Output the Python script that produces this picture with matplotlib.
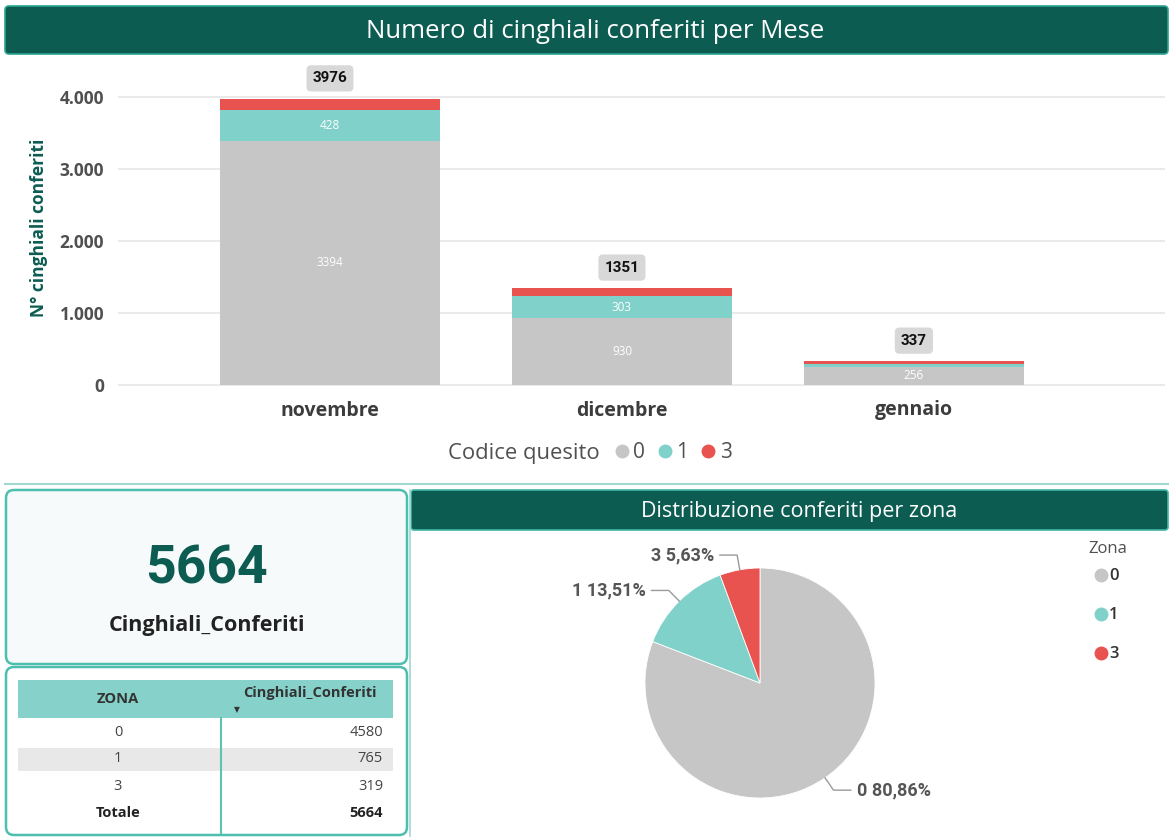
import matplotlib
matplotlib.use("Agg")
import matplotlib.pyplot as plt
from matplotlib.patches import FancyBboxPatch, Rectangle
from matplotlib.lines import Line2D
import numpy as np

# ---------------- data ----------------
months = ["novembre", "dicembre", "gennaio"]
codes = ["0", "1", "3"]
code0 = [3394, 930, 256]
code1 = [428, 303, 34]
code3 = [154, 118, 47]
yticks = [0, 1000, 2000, 3000, 4000]
ytick_labels = ["0", "1.000", "2.000", "3.000", "4.000"]

zones = ["0", "1", "3"]
zone_counts = [4580, 765, 319]
zone_pct_labels = ["80,86%", "13,51%", "5,63%"]
total_label = "5664"

# ---------------- style ----------------
W, H = 1173, 839
TEAL = "#0d5c52"
GRAY = "#c6c6c6"
CYAN = "#7fd1c9"
RED = "#e9534f"
TXT = "#505050"
FONT = ["Open Sans", "DejaVu Sans"]
NUMF = ["Roboto", "DejaVu Sans"]
plt.rcParams["font.family"] = FONT

fig = plt.figure(figsize=(W / 100, H / 100), dpi=100)
fig.patch.set_facecolor("white")


def box(x0, y0, x1, y1):
    """pixel box (top-left origin) -> figure fraction rect"""
    return [x0 / W, 1 - y1 / H, (x1 - x0) / W, (y1 - y0) / H]


def fx(x):
    return x / W


def fy(y):
    return 1 - y / H


# background overlay axes for panels
bg = fig.add_axes([0, 0, 1, 1], zorder=0)
bg.set_xlim(0, W)
bg.set_ylim(H, 0)
bg.axis("off")

# top header
bg.add_patch(FancyBboxPatch((5, 6), 1163, 48, boxstyle="round,pad=0,rounding_size=4",
                            fc=TEAL, ec="#2aa590", lw=1.2))
bg.text(595, 31, "Numero di cinghiali conferiti per Mese", color="white", fontsize=18.5,
        ha="center", va="center")

# bottom separator lines
bg.plot([5, 1168], [484, 484], color="#9fd8cf", lw=1.5)

# KPI card
bg.add_patch(FancyBboxPatch((6, 490), 401, 174, boxstyle="round,pad=0,rounding_size=8",
                            fc="#f6fafa", ec="#4dbfae", lw=1.8))
bg.text(207, 569, total_label, color=TEAL, fontsize=38.5, fontweight="bold",
        ha="center", va="center", family=NUMF)
bg.text(207, 625, "Cinghiali_Conferiti", color="#222222", fontsize=15.5, fontweight="bold",
        ha="center", va="center")

# table card
bg.add_patch(FancyBboxPatch((6, 667), 401, 168, boxstyle="round,pad=0,rounding_size=8",
                            fc="white", ec="#4dbfae", lw=1.8))
bg.add_patch(Rectangle((18, 680), 375, 38, fc="#86d2ca", ec="none"))
bg.text(118, 699, "ZONA", fontsize=10.5, fontweight="bold", color="#333333", ha="center", va="center")
bg.text(310, 693, "Cinghiali_Conferiti", fontsize=10.5, fontweight="bold", color="#333333",
        ha="center", va="center")
bg.text(237, 710, "\u25BC", fontsize=5.5, color="#333333", ha="center", va="center",
        family=["DejaVu Sans"])
bg.add_patch(Rectangle((18, 748), 375, 23, fc="#e8e8e8", ec="none"))
bg.plot([221, 221], [718, 833], color="#5cc3b5", lw=1.5)
row_y = [733, 759, 786]
for yy, z, c in zip(row_y, zones, zone_counts):
    bg.text(118, yy, z, fontsize=10.5, color="#444444", ha="center", va="center")
    bg.text(383, yy, str(c), fontsize=10.5, color="#444444", ha="right", va="center")
bg.text(118, 813, "Totale", fontsize=10.5, fontweight="bold", color="#222222", ha="center", va="center")
bg.text(383, 813, str(sum(zone_counts)), fontsize=10.5, fontweight="bold", color="#222222",
        ha="right", va="center")

# pie header
bg.add_patch(FancyBboxPatch((411, 490), 757, 40, boxstyle="round,pad=0,rounding_size=3",
                            fc=TEAL, ec="#3fb5a5", lw=1.2))
bg.text(799, 511, "Distribuzione conferiti per zona", color="white", fontsize=15.5,
        ha="center", va="center")
bg.plot([410, 410], [490, 836], color="#9fd8cf", lw=1.2)

# ---------------- bar chart ----------------
ax = fig.add_axes(box(118, 68, 1165, 388), zorder=2)
ax.set_facecolor("none")
x = np.arange(len(months))
bw = 0.753
b0 = np.array(code0)
b1 = np.array(code1)
b3 = np.array(code3)
ax.bar(x, b0, bw, color=GRAY, zorder=3)
ax.bar(x, b1, bw, bottom=b0, color=CYAN, zorder=3)
ax.bar(x, b3, bw, bottom=b0 + b1, color=RED, zorder=3)
ax.set_xlim(-0.726, 2.86)
ax.set_ylim(-40, 4400)
ax.set_yticks(yticks)
ax.set_yticklabels(ytick_labels, fontsize=12.5, color=TXT, fontweight="bold")
ax.set_xticks(x)
ax.set_xticklabels(months, fontsize=14, color="#3c3c3c", fontweight="bold")
ax.tick_params(axis="both", length=0)
ax.tick_params(axis="y", pad=10)
ax.tick_params(axis="x", pad=9)
for s in ax.spines.values():
    s.set_visible(False)
ax.grid(axis="y", color="#e6e6e6", lw=1.2, zorder=0)
ax.set_axisbelow(True)
ax.set_ylabel("N° cinghiali conferiti", fontsize=12.5, fontweight="bold", color=TEAL, labelpad=8)

for xi, v0, v1, v3 in zip(x, b0, b1, b3):
    if v0 > 200:
        ax.text(xi, v0 / 2, str(v0), color="white", fontsize=8.5, ha="center", va="center", zorder=4)
    if v1 > 200:
        ax.text(xi, v0 + v1 / 2, str(v1), color="white", fontsize=8.5, ha="center", va="center", zorder=4)
    tot = v0 + v1 + v3
    ax.text(xi, tot + 280, str(tot), color="#111111", fontsize=11, fontweight="bold",
            ha="center", va="center", zorder=4, family=NUMF,
            bbox=dict(boxstyle="round,pad=0.4,rounding_size=0.3", fc="#d8d8d8", ec="none"))

# bar legend
fig.text(fx(448), fy(453), "Codice quesito", fontsize=15.8, color=TXT, ha="left", va="center")
leg_handles = [Line2D([], [], marker="o", ls="", color=c, markersize=9)
               for c in [GRAY, CYAN, RED]]
leg = fig.legend(leg_handles, codes, loc="center left", bbox_to_anchor=(fx(600), fy(453)),
                 ncol=3, frameon=False, handletextpad=0.0, columnspacing=0.4,
                 prop=dict(size=15, family=FONT), borderpad=0, handlelength=1.1)
for t in leg.get_texts():
    t.set_color(TXT)

# ---------------- pie chart ----------------
pax = fig.add_axes(box(630, 553, 890, 813), zorder=2)
wedges, _ = pax.pie(zone_counts, colors=[GRAY, CYAN, RED], startangle=90, counterclock=False,
                    radius=1.0, wedgeprops=dict(ec="white", lw=0.6))
lim = 130 / 115
pax.set_xlim(-lim, lim)
pax.set_ylim(-lim, lim)
pax.set_aspect("equal")
pax.axis("off")
for w, z, lab in zip(wedges, zones, zone_pct_labels):
    ang = np.deg2rad((w.theta1 + w.theta2) / 2)
    px, py = np.cos(ang), np.sin(ang)
    ex, ey = 1.13 * px, 1.13 * py
    side = 1 if px > 0 else -1
    hx = ex + side * 0.15
    pax.plot([px, ex, hx], [py, ey, ey], color="#9a9a9a", lw=1, clip_on=False)
    pax.text(hx + side * 0.05, ey, f"{z} {lab}", fontsize=13, fontweight="bold", color="#555555",
             ha="left" if side > 0 else "right", va="center", clip_on=False, family=NUMF)

# pie legend
fig.text(fx(1088), fy(549), "Zona", fontsize=12, color=TXT, ha="left", va="center")
for yy, z, c in zip([575, 614, 653], zones, [GRAY, CYAN, RED]):
    bg.plot([1101], [yy], marker="o", color=c, markersize=9, ls="")
    bg.text(1109, yy + 1, z, fontsize=12, color="#333333", ha="left", va="center",
            fontweight="semibold")

fig.savefig("out.png", dpi=100, facecolor="white")
